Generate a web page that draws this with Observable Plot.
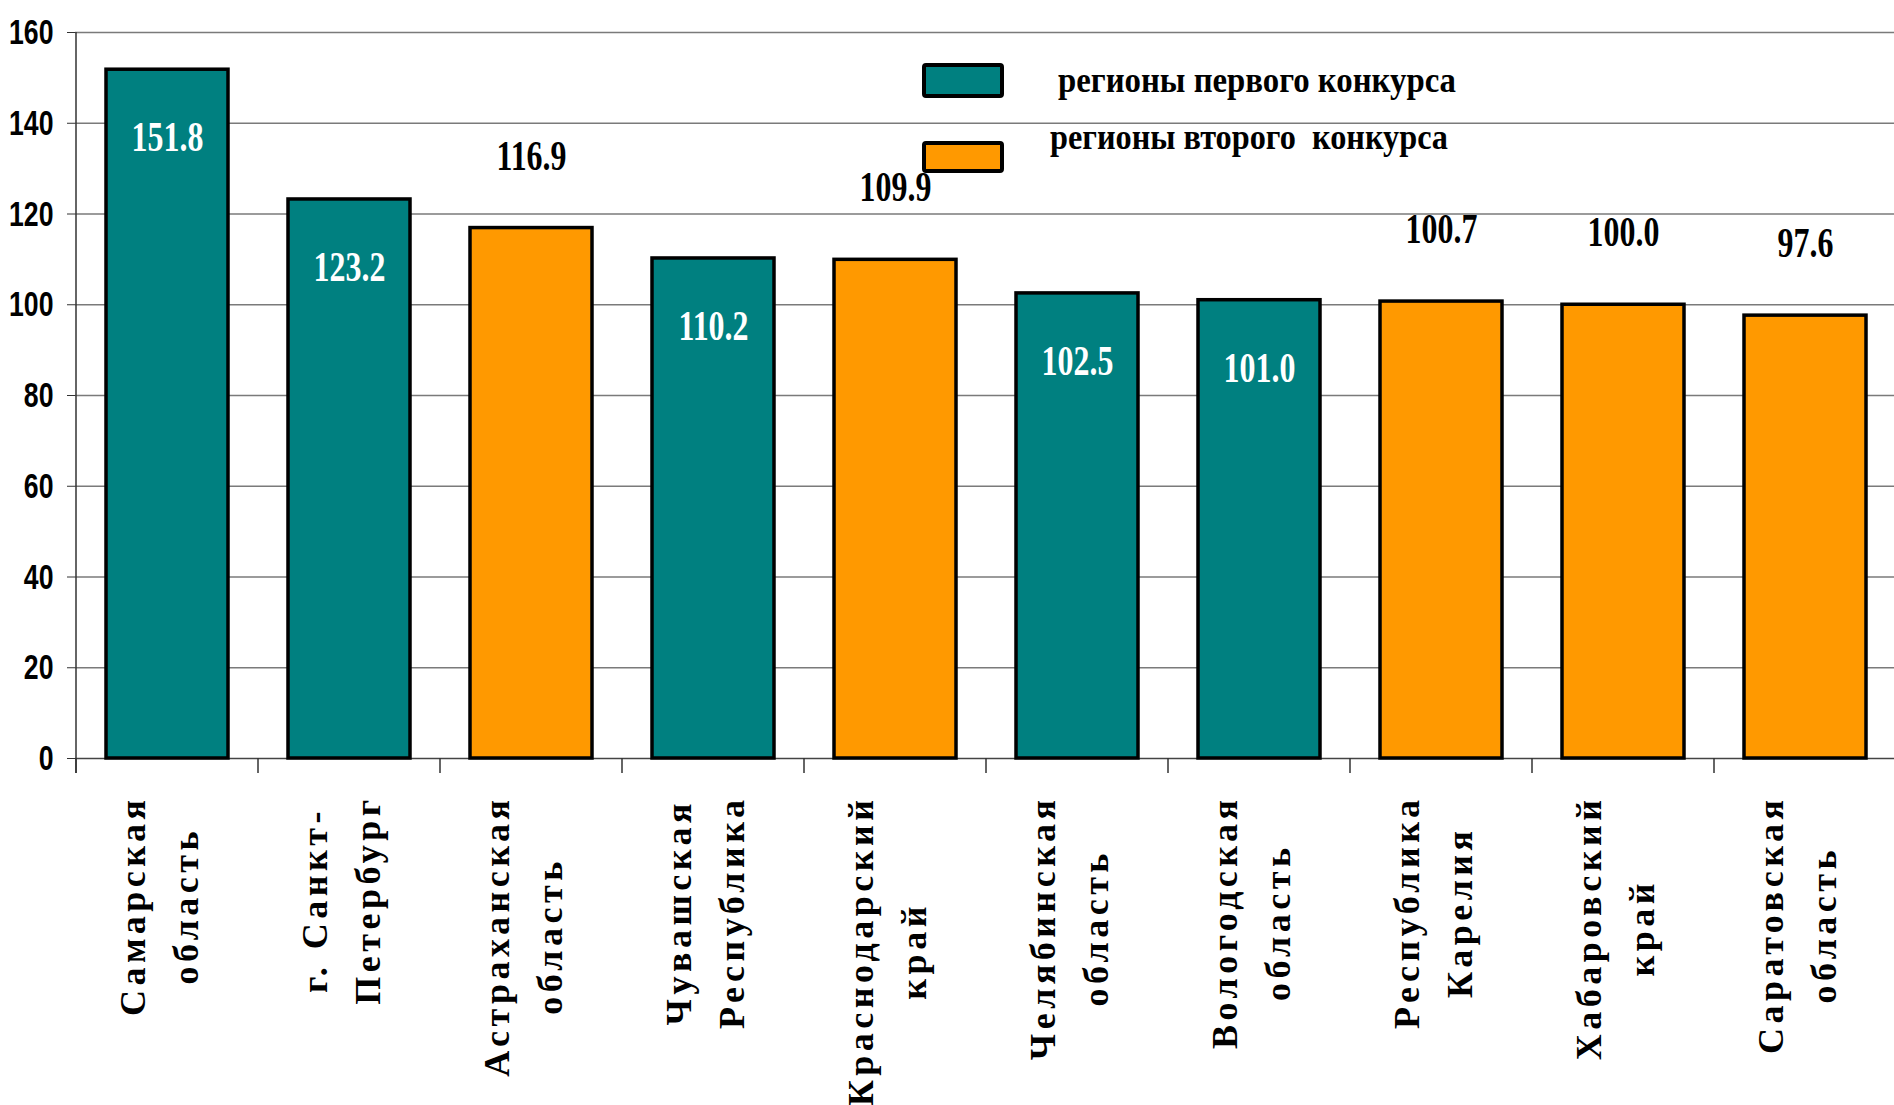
<!DOCTYPE html>
<html><head><meta charset="utf-8">
<script src="https://cdn.jsdelivr.net/npm/d3@7"></script>
<script src="https://cdn.jsdelivr.net/npm/@observablehq/plot@0.6"></script>
<style>
html,body{margin:0;padding:0;background:#fff}
#chart svg{overflow:visible;display:block}
</style>
</head><body><div id="chart"></div>
<script>
const regions = ["Самарская\nобласть", "г. Санкт-\nПетербург", "Астраханская\nобласть", "Чувашская\nРеспублика", "Краснодарский\nкрай", "Челябинская\nобласть", "Вологодская\nобласть", "Республика\nКарелия", "Хабаровский\nкрай", "Саратовская\nобласть"];
const values = [151.8, 123.2, 116.9, 110.2, 109.9, 102.5, 101.0, 100.7, 100.0, 97.6];
const rounds = ["первого", "первого", "второго", "первого", "второго", "первого", "первого", "второго", "второго", "второго"];
const roundDomain = ["первого", "второго"];
const roundColors = ["#008080", "#FF9900"];
const legendLabels = ["регионы первого конкурса", "регионы второго  конкурса"];
const yTicks = [0, 20, 40, 60, 80, 100, 120, 140, 160];

const data = regions.map((r, i) => ({region: r, value: values[i], round: rounds[i]}));
const serif = "'Liberation Serif','Times New Roman',serif";
const sans = "'Liberation Sans',Arial,sans-serif";

const plot = Plot.plot({
  width: 1894, height: 1105,
  marginLeft: 75, marginRight: -2, marginTop: 32, marginBottom: 347,
  style: {background: "white", overflow: "visible"},
  x: {domain: regions, paddingInner: 0.33, paddingOuter: 0.165, axis: null},
  y: {domain: [0, 160], axis: null},
  color: {domain: roundDomain, range: roundColors},
  marks: [
    Plot.ruleY(yTicks.filter(d => d > 0), {stroke: "#7a7a7a", strokeWidth: 1.3}),
    Plot.axisY(yTicks, {tickSize: 8, tickPadding: 14, tickFormat: d => String(d), label: null,
      fontSize: 36, fontWeight: "bold", fontFamily: sans, stroke: "#333", fill: "black", ariaDescription: "ylabel"}),
    Plot.ruleY([0], {stroke: "#444", strokeWidth: 1.5}),
    Plot.barY(data, {x: "region", y: "value", fill: "round", stroke: "black", strokeWidth: 3.5}),
    Plot.text(data.filter(d => d.round === roundDomain[0]), {x: "region", y: "value", text: d => d.value.toFixed(1),
      dy: 68, fill: "white", fontSize: 42, fontWeight: "bold", fontFamily: serif, ariaDescription: "vlabel"}),
    Plot.text(data.filter(d => d.round === roundDomain[1]), {x: "region", y: "value", text: d => d.value.toFixed(1),
      dy: -72, fill: "black", fontSize: 42, fontWeight: "bold", fontFamily: serif, ariaDescription: "vlabel"}),
    Plot.text(data, {x: "region", y: () => 0, text: "region", rotate: -90, dx: -13, dy: 37,
      textAnchor: "middle", lineAnchor: "middle", lineHeight: 1.47,
      fontSize: 36, fontWeight: "bold", fontFamily: serif, fill: "black", ariaDescription: "xlabel"})
  ]
});
document.getElementById("chart").appendChild(plot);

const svg = d3.select(plot);

function squeeze(sel, k) {
  sel.each(function() {
    const t = this.getAttribute("transform");
    if (t) this.setAttribute("transform", t + ` scale(${k},1)`);
    else {
      const x = +this.getAttribute("x") || 0, y = +this.getAttribute("y") || 0;
      this.setAttribute("transform", `translate(${x},${y}) scale(${k},1)`);
      this.removeAttribute("x"); this.removeAttribute("y");
    }
  });
}
// condensed look for value labels and y tick labels
squeeze(svg.selectAll("g[aria-description=vlabel] text"), 0.76);
squeeze(svg.selectAll("g[aria-description=ylabel] text"), 0.74);

// x labels: letter-spaced, block anchored at the top
svg.selectAll("g[aria-description=xlabel] text").each(function() {
  this.style.letterSpacing = "4.5px";
  const b = this.getBBox();
  const t = this.getAttribute("transform") || "";
  this.setAttribute("transform", t + ` translate(${-(b.x + b.width)},0)`);
});

// category ticks and left axis line
const xs = plot.scale("x"), ys = plot.scale("y");
const y0 = ys.apply(0), yTop = ys.apply(160);
const gap = (xs.step - xs.bandwidth) / 2;
const bounds = regions.map(r => xs.apply(r) - gap);
bounds.push(xs.apply(regions[regions.length - 1]) + xs.bandwidth + gap);
const ga = svg.append("g").attr("stroke", "#333").attr("stroke-width", 1.5);
bounds.forEach(b => ga.append("line").attr("x1", b).attr("x2", b).attr("y1", y0).attr("y2", y0 + 15));
ga.append("line").attr("x1", bounds[0]).attr("x2", bounds[0]).attr("y1", yTop).attr("y2", y0 + 15);

// legend inside the plot area
const lg = svg.append("g");
const legendRows = [{y: 65, h: 31, tx: 1058, ty: 92}, {y: 143, h: 28, tx: 1050, ty: 149}];
legendLabels.forEach((lab, i) => {
  const r = legendRows[i];
  lg.append("rect").attr("x", 924).attr("y", r.y).attr("width", 78).attr("height", r.h)
    .attr("rx", 2).attr("fill", roundColors[i]).attr("stroke", "black").attr("stroke-width", 4);
  lg.append("text").attr("x", r.tx).attr("y", r.ty).text(lab)
    .attr("text-anchor", "start")
    .attr("font-family", serif).attr("font-weight", "bold").attr("font-size", 36)
    .attr("textLength", 398).attr("lengthAdjust", "spacingAndGlyphs")
    .style("white-space", "pre");
});
</script>
</body></html>
